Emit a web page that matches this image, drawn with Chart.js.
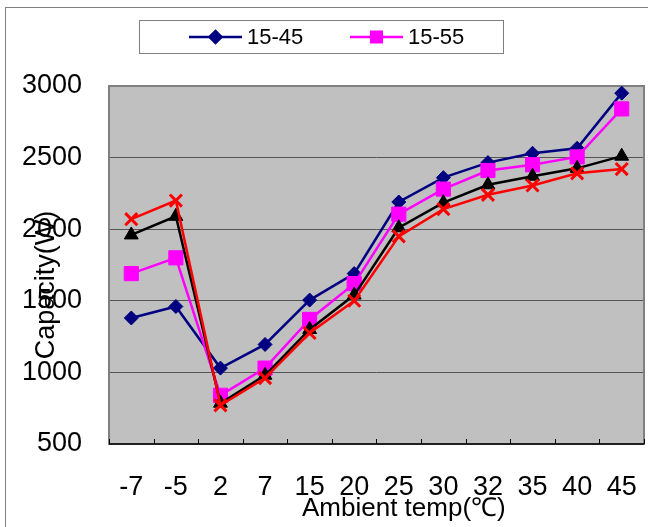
<!DOCTYPE html>
<html>
<head>
<meta charset="utf-8">
<script src="https://cdn.jsdelivr.net/npm/chart.js@4.4.1/dist/chart.umd.min.js"></script>
<style>
    html, body { margin: 0; padding: 0; background: #fff; }
    #wrap { width: 648px; height: 527px; }
</style>
</head>
<body>
<div id="wrap"><canvas id="capChart" width="648" height="527"></canvas></div>
<script>
// Data
const categories = ['-7', '-5', '2', '7', '15', '20', '25', '30', '32', '35', '40', '45'];
const cap1545 = [1380, 1460, 1030, 1195, 1505, 1690, 2190, 2360, 2465, 2530, 2565, 2950];
const cap1555 = [1690, 1800, 840, 1030, 1370, 1620, 2105, 2280, 2410, 2450, 2505, 2840];
const capBlack = [1960, 2090, 785, 980, 1300, 1540, 2010, 2185, 2310, 2370, 2425, 2510];
const capRed = [2070, 2200, 770, 960, 1275, 1500, 1950, 2140, 2240, 2305, 2390, 2420];
const yTicks = [500, 1000, 1500, 2000, 2500, 3000];

const FONT = '"Liberation Sans", Arial, sans-serif';

// Background, frame, inward x ticks, titles and the boxed legend
const decorPlugin = {
    id: 'decor',
    beforeDraw(chart) {
        const { ctx, chartArea: a } = chart;
        ctx.save();
        ctx.fillStyle = '#fff';
        ctx.fillRect(0, 0, chart.width, chart.height);
        // outer frame of the chart object
        ctx.strokeStyle = '#808080';
        ctx.lineWidth = 1;
        ctx.strokeRect(5.5, 7.5, 700, 600);
        // grey plot area
        ctx.fillStyle = '#c0c0c0';
        ctx.fillRect(a.left, a.top, a.right - a.left, a.bottom - a.top);
        ctx.restore();
    },
    beforeDatasetsDraw(chart) {
        const { ctx, chartArea: a, scales } = chart;
        const x = scales.x;
        ctx.save();
        // plot frame
        ctx.strokeStyle = '#808080';
        ctx.lineWidth = 2;
        ctx.strokeRect(a.left, a.top, a.right - a.left, a.bottom - a.top);
        ctx.strokeStyle = '#000';
        ctx.lineWidth = 1.5;
        ctx.beginPath();
        ctx.moveTo(a.left, a.bottom);
        ctx.lineTo(a.right, a.bottom);
        ctx.stroke();
        // small tick marks between categories, pointing up into the plot
        ctx.lineWidth = 1;
        const step = x.getPixelForValue(1) - x.getPixelForValue(0);
        for (let i = 0; i <= categories.length; i++) {
            const px = Math.round(x.getPixelForValue(i) - step / 2) + 0.5;
            ctx.beginPath();
            ctx.moveTo(px, a.bottom);
            ctx.lineTo(px, a.bottom - 5);
            ctx.stroke();
        }
        ctx.restore();
    },
    afterDraw(chart) {
        const { ctx } = chart;
        ctx.save();
        // axis titles
        ctx.fillStyle = '#000';
        ctx.font = '26px ' + FONT;
        ctx.textAlign = 'left';
        ctx.textBaseline = 'alphabetic';
        ctx.fillText('Ambient temp(\u2103)', 302, 516);

        ctx.translate(47, 285);
        ctx.rotate(-Math.PI / 2);
        ctx.font = '27px ' + FONT;
        ctx.textAlign = 'center';
        ctx.textBaseline = 'middle';
        ctx.fillText('Capacity(W)', 0, 0);
        ctx.restore();

        // legend box with the first two series
        ctx.save();
        ctx.fillStyle = '#fff';
        ctx.fillRect(139.5, 20.5, 364, 33);
        ctx.strokeStyle = '#808080';
        ctx.lineWidth = 1;
        ctx.strokeRect(139.5, 20.5, 364, 33);
        const items = [{ ds: chart.data.datasets[0], x: 189 }, { ds: chart.data.datasets[1], x: 350 }];
        items.forEach(it => {
            const y = 37;
            ctx.strokeStyle = it.ds.borderColor;
            ctx.lineWidth = 2.5;
            ctx.beginPath();
            ctx.moveTo(it.x, y);
            ctx.lineTo(it.x + 53, y);
            ctx.stroke();
            ctx.fillStyle = it.ds.borderColor;
            Chart.helpers.drawPoint(ctx, {
                pointStyle: it.ds.pointStyle,
                radius: it.ds.pointStyle === 'rect' ? 7.5 : 6,
                borderWidth: 1,
                rotation: 0
            }, it.x + 26.5, y);
            ctx.fillStyle = '#000';
            ctx.font = '22px ' + FONT;
            ctx.textAlign = 'left';
            ctx.textBaseline = 'middle';
            ctx.fillText(it.ds.label, it.x + 58, y + 1);
        });
        ctx.restore();
    }
};

function lineSet(label, data, color, style, radius, order) {
    return {
        label: label,
        data: data,
        borderColor: color,
        backgroundColor: color,
        borderWidth: 2.5,
        pointStyle: style,
        pointRadius: radius,
        pointBorderWidth: style === 'crossRot' ? 3 : 1,
        pointBorderColor: color,
        pointBackgroundColor: color,
        tension: 0,
        fill: false,
        order: order
    };
}

new Chart(document.getElementById('capChart'), {
    type: 'line',
    data: {
        labels: categories,
        datasets: [
            lineSet('15-45', cap1545, '#000080', 'rectRot', 7, 4),
            lineSet('15-55', cap1555, '#ff00ff', 'rect', 10, 3),
            lineSet('', capBlack, '#000000', 'triangle', 8, 2),
            lineSet('', capRed, '#ff0000', 'crossRot', 8.5, 1)
        ]
    },
    options: {
        responsive: false,
        animation: false,
        devicePixelRatio: 1,
        layout: { autoPadding: false, padding: { left: 0, top: 86, right: 4, bottom: 0 } },
        plugins: {
            legend: { display: false },
            tooltip: { enabled: false }
        },
        scales: {
            x: {
                offset: true,
                grid: { display: false, offset: true },
                border: { display: false },
                ticks: {
                    color: '#000',
                    font: { family: FONT, size: 27 },
                    padding: 19,
                    maxRotation: 0,
                    autoSkip: false
                },
                afterFit: s => {
                    s.height = 83;
                    s.paddingLeft = 0;
                    s.paddingRight = 0;
                }
            },
            y: {
                min: 500,
                max: 3000,
                afterBuildTicks: s => { s.ticks = yTicks.map(v => ({ value: v })); },
                grid: { color: '#555', lineWidth: 1, drawTicks: false },
                border: { display: false },
                ticks: {
                    color: '#000',
                    font: { family: FONT, size: 27 },
                    padding: 27,
                    callback: v => String(v)
                },
                afterFit: s => { s.width = 109; }
            }
        }
    },
    plugins: [decorPlugin]
});
</script>
</body>
</html>
